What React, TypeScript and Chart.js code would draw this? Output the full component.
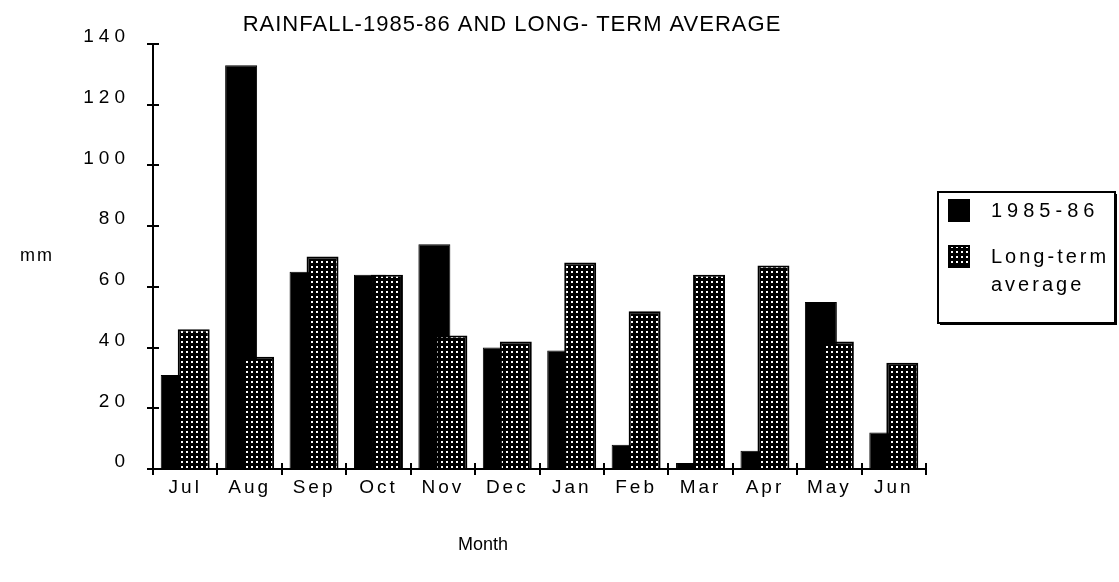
import React, { useEffect, useRef } from 'react';
import { Chart, registerables } from 'chart.js';

Chart.register(...registerables);

const months = ['Jul', 'Aug', 'Sep', 'Oct', 'Nov', 'Dec', 'Jan', 'Feb', 'Mar', 'Apr', 'May', 'Jun'];
const rain1985 = [31, 133, 65, 64, 74, 40, 39, 8, 2, 6, 55, 12];
const longTermAvg = [46, 37, 70, 64, 44, 42, 68, 52, 64, 67, 42, 35];
const yTicks = [0, 20, 40, 60, 80, 100, 120, 140];
const seriesLabels = ['1985-86', 'Long-term average'];
const legendLines = [['1985-86'], ['Long-term', 'average']];
const titleText = 'RAINFALL-1985-86 AND LONG- TERM AVERAGE';
const yTitle = 'mm';
const xTitle = 'Month';

const FONT = '"Liberation Sans", Arial, Helvetica, sans-serif';

export default function App() {
  const ref = useRef<HTMLCanvasElement>(null);

  useEffect(() => {
    const canvas = ref.current!;
    const pc = document.createElement('canvas');
    pc.width = 5;
    pc.height = 5;
    const p = pc.getContext('2d')!;
    p.fillStyle = '#000';
    p.fillRect(0, 0, 5, 5);
    p.fillStyle = '#fff';
    p.fillRect(1, 1, 2, 2);
    const pattern = canvas.getContext('2d')!.createPattern(pc, 'repeat')!;

    const patchScale = (scale: any, spacing: string) => {
      if (!scale || scale.__patched) return;
      const orig = scale.drawLabels;
      scale.drawLabels = function (area: any) {
        const c = this.ctx;
        c.save();
        c.letterSpacing = spacing;
        orig.call(this, area);
        c.restore();
      };
      scale.__patched = true;
    };

    const orderPlugin = {
      id: 'drawOrder',
      beforeDraw(chart: any) {
        patchScale(chart.scales.x, '3px');
        patchScale(chart.scales.y, '5px');
      },
      beforeDatasetsDraw(chart: any) {
        // draw first series first so the second overlaps it, as in the original
        chart.getSortedVisibleDatasetMetas().forEach((m: any) => m.controller.draw());
        return false;
      },
    };

    const textPlugin = {
      id: 'texts',
      afterDraw(chart: any) {
        const { ctx, chartArea } = chart;
        const xs = chart.scales.x;
        const ys = chart.scales.y;
        ctx.save();
        (ctx as any).letterSpacing = '0px';
        // inner halves of tick marks
        ctx.strokeStyle = '#000';
        ctx.lineWidth = 2;
        ctx.beginPath();
        for (let i = 0; i <= months.length; i++) {
          const px = Math.round(xs.getPixelForValue(i - 0.5));
          ctx.moveTo(px, chartArea.bottom);
          ctx.lineTo(px, chartArea.bottom - 6);
        }
        yTicks.forEach((v) => {
          const py = Math.round(ys.getPixelForValue(v));
          ctx.moveTo(chartArea.left, py);
          ctx.lineTo(chartArea.left + 6, py);
        });
        ctx.stroke();

        ctx.fillStyle = '#000';
        // title
        ctx.font = `22px ${FONT}`;
        (ctx as any).letterSpacing = '1px';
        ctx.textAlign = 'center';
        ctx.textBaseline = 'alphabetic';
        ctx.fillText(titleText, 512, 31);

        // axis titles
        ctx.font = `18px ${FONT}`;
        (ctx as any).letterSpacing = '2px';
        ctx.textAlign = 'left';
        ctx.textBaseline = 'middle';
        ctx.fillText(yTitle, 20, 256);
        (ctx as any).letterSpacing = '0px';
        ctx.textAlign = 'center';
        ctx.fillText(xTitle, 483, 545);

        // legend
        const bx = chartArea.right + 12;
        const by = 192;
        const bw = 177;
        const bh = 131;
        ctx.fillStyle = '#000';
        ctx.fillRect(bx + 2, by + 2, bw, bh);
        ctx.fillStyle = '#fff';
        ctx.fillRect(bx, by, bw, bh);
        ctx.strokeStyle = '#000';
        ctx.lineWidth = 2;
        ctx.strokeRect(bx, by, bw, bh);

        const ds = chart.data.datasets;
        const swTops = [by + 7, by + 53];
        const lineGap = 28;
        ds.forEach((d: any, i: number) => {
          const sy = swTops[i];
          ctx.fillStyle = d.backgroundColor;
          ctx.fillRect(bx + 10, sy, 22, 23);
          ctx.strokeStyle = '#000';
          ctx.lineWidth = 2;
          ctx.strokeRect(bx + 11, sy + 1, 20, 21);
          ctx.fillStyle = '#000';
          ctx.font = `20px ${FONT}`;
          ctx.textAlign = 'left';
          ctx.textBaseline = 'middle';
          (ctx as any).letterSpacing = i === 0 ? '5px' : '3px';
          legendLines[i].forEach((line, k) => {
            ctx.fillText(line, bx + 53, sy + 12 + k * lineGap);
          });
        });
        ctx.restore();
      },
    };

    const chart = new Chart(canvas, {
      type: 'bar',
      data: {
        labels: months,
        datasets: [
          {
            label: seriesLabels[0],
            data: rain1985,
            backgroundColor: '#000',
            borderColor: '#000',
            borderWidth: 1,
          },
          {
            label: seriesLabels[1],
            data: longTermAvg,
            backgroundColor: pattern as any,
            borderColor: '#000',
            borderWidth: 2,
          },
        ],
      },
      options: {
        animation: false,
        responsive: false,
        layout: { padding: { top: 44, right: 193, left: 0, bottom: 0 } },
        datasets: { bar: { categoryPercentage: 0.528, barPercentage: 1.88 } },
        plugins: {
          legend: { display: false },
          title: { display: false },
          tooltip: { enabled: false },
        },
        scales: {
          x: {
            grid: { drawOnChartArea: false, color: '#000', lineWidth: 2, tickLength: 6, offset: true },
            border: { color: '#000', width: 2 },
            ticks: {
              color: '#000',
              font: { family: FONT, size: 19 },
              padding: 1,
              maxRotation: 0,
              autoSkip: false,
            },
            afterFit(s: any) {
              s.height = 113;
            },
          },
          y: {
            min: 0,
            max: 140,
            afterBuildTicks(s: any) {
              s.ticks = yTicks.map((v) => ({ value: v }));
            },
            grid: { drawOnChartArea: false, color: '#000', lineWidth: 2, tickLength: 6 },
            border: { color: '#000', width: 2 },
            ticks: {
              color: '#000',
              font: { family: FONT, size: 19 },
              padding: 17,
              labelOffset: -7,
            },
            afterFit(s: any) {
              s.width = 153;
            },
          },
        },
      },
      plugins: [orderPlugin, textPlugin],
    });
    chart.draw();

    return () => chart.destroy();
  }, []);

  return (
    <div style={{ position: 'absolute', left: 0, top: 0, width: 1119, height: 582 }}>
      <canvas ref={ref} width={1119} height={582} style={{ display: 'block' }} />
    </div>
  );
}
